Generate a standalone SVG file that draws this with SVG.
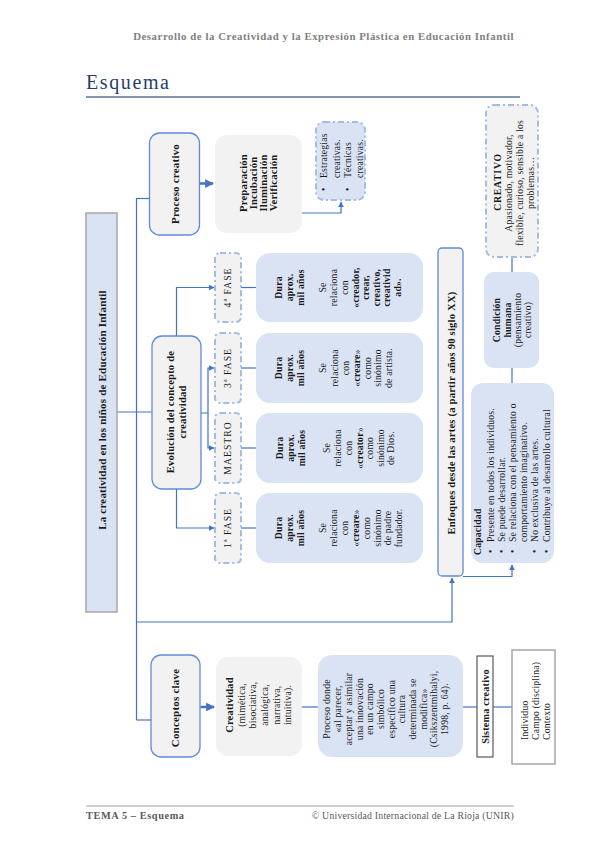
<svg xmlns="http://www.w3.org/2000/svg" width="599" height="848" viewBox="0 0 599 848">
<defs>
<marker id="ah" viewBox="0 0 10 10" refX="9" refY="5" markerWidth="5" markerHeight="5" orient="auto"><path d="M0,0 L10,5 L0,10 z" fill="#4472c4"/></marker>
<marker id="ahb" viewBox="0 0 10 10" refX="9" refY="5" markerWidth="3.5" markerHeight="3.5" orient="auto"><path d="M0,0 L10,5 L0,10 z" fill="#4472c4"/></marker>
<style>
text{font-family:"Liberation Serif","DejaVu Serif",serif;fill:#1a1a1a;letter-spacing:0.2px}
.b{font-weight:bold}
.c{text-anchor:middle}
.s{text-anchor:start}
.t10{font-size:10.6px}
.t9{font-size:9.7px}
.blue{fill:#f2f2f2;stroke:#5f8bd6;stroke-width:1.3}
.gray{fill:#f2f2f2;stroke:none}
.lb{fill:#dae3f3;stroke:none}
.dd{stroke:#a3bbe6;stroke-width:2;stroke-dasharray:6 3 2 3}
.ln{fill:none;stroke:#4472c4;stroke-width:1.2}
.lnt{fill:none;stroke:#4472c4;stroke-width:2.5}
</style>
</defs>
<rect width="599" height="848" fill="#ffffff"/>

<g id="header">
<text x="514" y="40" style="font-size:10.8px;font-weight:bold;fill:#808080;text-anchor:end;letter-spacing:0.55px">Desarrollo de la Creatividad y la Expresión Plástica en Educación Infantil</text>
<text x="86" y="89" style="font-size:20px;fill:#1f3e6e;letter-spacing:1.6px">Esquema</text>
<line x1="86" y1="97" x2="520" y2="97" stroke="#8497b0" stroke-width="2"/>
</g>

<g id="connectors">
<path class="ln" d="M136.5 198 V720"/>
<path class="ln" d="M136.5 198.5 H149.5"/>
<path class="ln" d="M117 412 H152"/>
<path class="ln" d="M136.5 720 H151"/>
<path class="ln" d="M136.5 622 H452 V578" marker-end="url(#ah)"/>
<path class="lnt" d="M200 183.5 H213" marker-end="url(#ahb)"/>
<path class="ln" d="M302 213 H341 V202" marker-end="url(#ah)"/>
<path class="ln" d="M512 257 V272"/>
<path class="ln" d="M512 368 V383"/>
<path class="ln" d="M463 576.5 H512 V565" marker-end="url(#ah)"/>
<path class="ln" d="M176.5 336 V287.5 H214" marker-end="url(#ah)"/>
<path class="ln" d="M176.5 489 V528 H214" marker-end="url(#ah)"/>
<path class="ln" d="M201 413 H208 V368 H214" marker-end="url(#ah)"/>
<path class="ln" d="M208 413 V448 H214" marker-end="url(#ah)"/>
<path class="ln" d="M241 287.5 H256"/>
<path class="ln" d="M241 368 H256"/>
<path class="ln" d="M241 448 H256"/>
<path class="ln" d="M241 528 H256"/>
<path class="lnt" d="M200.5 707 H214" marker-end="url(#ahb)"/>
<path class="ln" d="M302 707 H318"/>
<path class="ln" d="M463 707 H477"/>
<path class="ln" d="M493 707 H512"/>
</g>

<g id="main">
<rect x="86" y="213" width="31" height="399" fill="#dae3f3" stroke="#a6a6a6" stroke-width="1.5"/>
<text class="b c" transform="rotate(-90)" x="-410" y="105.5" style="font-size:11px">La creatividad en los niños de Educación Infantil</text>
</g>

<g id="proceso-creativo">
<rect class="blue" x="149.5" y="133" width="50" height="102" rx="10"/>
<text class="b c" transform="rotate(-90)" x="-184" y="178.5" style="font-size:11px">Proceso creativo</text>
</g>

<g id="fases-proceso">
<rect class="gray" x="215" y="135" width="87" height="98" rx="12"/>
<g transform="rotate(-90)" class="b c t10">
<text x="-183" y="246.5">Preparación</text>
<text x="-183" y="256.5">Incubación</text>
<text x="-183" y="266.5">Iluminación</text>
<text x="-183" y="276.5">Verificación</text>
</g>
</g>

<g id="estrategias">
<rect class="lb dd" x="316" y="122" width="49" height="78" rx="8"/>
<g transform="rotate(-90)" class="s t9">
<text x="-191" y="327">•</text>
<text x="-178" y="327">Estrategias</text>
<text x="-178" y="340">creativas.</text>
<text x="-191" y="351">•</text>
<text x="-178" y="351">Técnicas</text>
<text x="-178" y="363">creativas.</text>
</g>
</g>

<g id="creativo">
<rect class="gray dd" x="486" y="105" width="52" height="152" rx="8"/>
<g transform="rotate(-90)" class="c t9">
<text class="b" x="-182" y="500.5" style="letter-spacing:0.8px">CREATIVO</text>
<text x="-183" y="511.5">Apasionado, motivador,</text>
<text x="-183" y="522.5">flexible, curioso, sensible a los</text>
<text x="-183" y="533.5">problemas…</text>
</g>
</g>

<g id="condicion">
<rect class="lb" x="484" y="272" width="55" height="96" rx="10"/>
<g transform="rotate(-90)" class="c t9">
<text class="b" x="-320" y="499.5">Condición</text>
<text class="b" x="-320" y="510.5">humana</text>
<text x="-320" y="520.5">(pensamiento</text>
<text x="-320" y="531">creativo)</text>
</g>
</g>

<g id="enfoques">
<rect class="blue" x="438" y="248" width="25" height="328" rx="4"/>
<text class="b c t10" transform="rotate(-90)" x="-413" y="454.5">Enfoques desde las artes (a partir años 90 siglo XX)</text>
</g>

<g id="capacidad">
<rect class="lb" x="471" y="383" width="83" height="180" rx="12"/>
<g transform="rotate(-90)" class="s t9">
<text class="b" x="-555" y="480.5">Capacidad</text>
<text x="-553" y="493.5">•</text>
<text x="-542" y="493.5">Presente en todos los individuos.</text>
<text x="-553" y="504.5">•</text>
<text x="-542" y="504.5">Se puede desarrollar.</text>
<text x="-553" y="515.5">•</text>
<text x="-542" y="515.5">Se relaciona con el pensamiento o</text>
<text x="-542" y="526.5">comportamiento imaginativo.</text>
<text x="-553" y="538">•</text>
<text x="-542" y="538">No exclusiva de las artes.</text>
<text x="-553" y="550">•</text>
<text x="-542" y="550">Contribuye al desarrollo cultural</text>
</g>
</g>

<g id="evolucion">
<rect class="blue" x="152" y="336" width="49" height="153" rx="10"/>
<g transform="rotate(-90)" class="b c t10">
<text x="-412" y="173.5">Evolución del concepto de</text>
<text x="-412" y="185.5">creatividad</text>
</g>
</g>

<g id="fase4">
<rect class="gray dd" x="215" y="253" width="26" height="69" rx="5"/>
<text class="c t9" transform="rotate(-90)" x="-287.5" y="231" style="letter-spacing:1px">4ª FASE</text>
</g>
<g id="fase3">
<rect class="gray dd" x="215" y="333" width="26" height="70" rx="5"/>
<text class="c t9" transform="rotate(-90)" x="-368" y="231" style="letter-spacing:1px">3ª FASE</text>
</g>
<g id="maestro">
<rect class="gray dd" x="215" y="413" width="26" height="70" rx="5"/>
<text class="c t9" transform="rotate(-90)" x="-448" y="231" style="letter-spacing:1px">MAESTRO</text>
</g>
<g id="fase1">
<rect class="gray dd" x="215" y="493" width="26" height="70" rx="5"/>
<text class="c t9" transform="rotate(-90)" x="-528" y="231" style="letter-spacing:1px">1ª FASE</text>
</g>

<g id="dura4">
<rect class="lb" x="256" y="253" width="167" height="69" rx="14"/>
<g transform="rotate(-90)" class="c t9">
<text class="b" x="-287.5" y="282">Dura</text>
<text class="b" x="-287.5" y="293">aprox.</text>
<text class="b" x="-287.5" y="304">mil años</text>
<text x="-287.5" y="326">Se</text>
<text x="-287.5" y="337">relaciona</text>
<text x="-287.5" y="347.5">con</text>
<text class="b" x="-287.5" y="358.5">«creador,</text>
<text class="b" x="-287.5" y="369">crear,</text>
<text class="b" x="-287.5" y="379.5">creativo,</text>
<text class="b" x="-287.5" y="390">creativid</text>
<text class="b" x="-287.5" y="400.5">ad».</text>
</g>
</g>

<g id="dura3">
<rect class="lb" x="256" y="333" width="167" height="70" rx="14"/>
<g transform="rotate(-90)" class="c t9">
<text class="b" x="-368" y="282">Dura</text>
<text class="b" x="-368" y="293">aprox.</text>
<text class="b" x="-368" y="304">mil años</text>
<text x="-368" y="326">Se</text>
<text x="-368" y="337.5">relaciona</text>
<text x="-368" y="348.5">con</text>
<text x="-368" y="359.5">«<tspan class="b">creare</tspan>»</text>
<text x="-368" y="370.5">como</text>
<text x="-368" y="381">sinónimo</text>
<text x="-368" y="392">de artista.</text>
</g>
</g>

<g id="duram">
<rect class="lb" x="256" y="413" width="167" height="70" rx="14"/>
<g transform="rotate(-90)" class="c t9">
<text class="b" x="-448" y="283">Dura</text>
<text class="b" x="-448" y="294">aprox.</text>
<text class="b" x="-448" y="305">mil años</text>
<text x="-448" y="330">Se</text>
<text x="-448" y="341">relaciona</text>
<text x="-448" y="351.5">con</text>
<text x="-448" y="362.5">«<tspan class="b">creator</tspan>»</text>
<text x="-448" y="373">como</text>
<text x="-448" y="383.5">sinónimo</text>
<text x="-448" y="394">de Dios.</text>
</g>
</g>

<g id="dura1">
<rect class="lb" x="256" y="493" width="167" height="70" rx="14"/>
<g transform="rotate(-90)" class="c t9">
<text class="b" x="-528" y="282">Dura</text>
<text class="b" x="-528" y="293">aprox.</text>
<text class="b" x="-528" y="304">mil años</text>
<text x="-528" y="326">Se</text>
<text x="-528" y="337">relaciona</text>
<text x="-528" y="348">con</text>
<text x="-528" y="359">«<tspan class="b">creare</tspan>»</text>
<text x="-528" y="370">como</text>
<text x="-528" y="380.5">sinónimo</text>
<text x="-528" y="391">de padre</text>
<text x="-528" y="401.5">fundador.</text>
</g>
</g>

<g id="conceptos">
<rect class="blue" x="151" y="655" width="49" height="102" rx="10"/>
<text class="b c" transform="rotate(-90)" x="-708" y="178.5" style="font-size:11px">Conceptos clave</text>
</g>

<g id="creatividad">
<rect class="gray" x="216" y="657" width="86" height="99" rx="12"/>
<g transform="rotate(-90)" class="c t9">
<text class="b" x="-705" y="232.5" style="font-size:10.5px">Creatividad</text>
<text x="-705" y="245">(mimética,</text>
<text x="-705" y="256">bisociativa,</text>
<text x="-705" y="268">analógica,</text>
<text x="-705" y="280">narrativa,</text>
<text x="-705" y="291">intuitiva).</text>
</g>
</g>

<g id="proceso-donde">
<rect class="lb" x="318" y="655" width="145" height="102" rx="14"/>
<g transform="rotate(-90)" class="c t9">
<text x="-709" y="330">Proceso donde</text>
<text x="-709" y="341">«al parecer,</text>
<text x="-709" y="352">aceptar y asimilar</text>
<text x="-709" y="362.5">una innovación</text>
<text x="-709" y="373">en un campo</text>
<text x="-709" y="384">simbólico</text>
<text x="-709" y="394.5">específico una</text>
<text x="-709" y="405">cultura</text>
<text x="-709" y="416">determinada se</text>
<text x="-709" y="426.5">modifica»</text>
<text x="-709" y="437">(Csikszentmihalyi,</text>
<text x="-709" y="448">1998, p. 64).</text>
</g>
</g>

<g id="sistema">
<rect x="477" y="656" width="16" height="101" fill="#ffffff" stroke="#595959" stroke-width="1.2"/>
<text class="b c" transform="rotate(-90)" x="-706.5" y="488.5" style="font-size:10.2px">Sistema creativo</text>
</g>

<g id="individuo">
<rect x="512" y="650" width="43" height="114" fill="#ffffff" stroke="#a6a6a6" stroke-width="1.5"/>
<g transform="rotate(-90)" class="s t9">
<text x="-740" y="527.5">Individuo</text>
<text x="-740" y="538.5">Campo (disciplina)</text>
<text x="-740" y="549.5">Contexto</text>
</g>
</g>

<g id="footer">
<line x1="86" y1="806" x2="514" y2="806" stroke="#bfbfbf" stroke-width="1.5"/>
<text x="86" y="819" style="font-size:10.3px;font-weight:bold;fill:#595959;letter-spacing:0.6px">TEMA 5 – Esquema</text>
<text x="514" y="819" style="font-size:9.8px;fill:#595959;text-anchor:end">© Universidad Internacional de La Rioja (UNIR)</text>
</g>
</svg>
